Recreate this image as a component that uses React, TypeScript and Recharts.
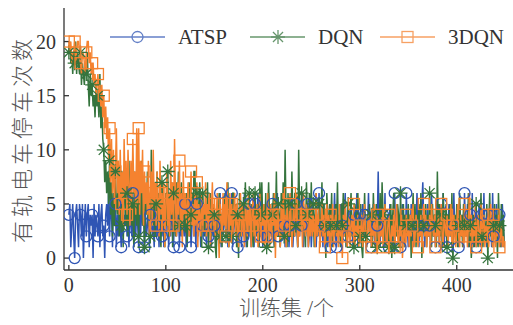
import { Legend, Line, LineChart, XAxis, YAxis } from "recharts"

const BLUE = "#2f55b4"
const GREEN = "#35743d"
const ORANGE = "#f5822f"
const SERIF = "'Liberation Serif', 'Times New Roman', serif"
const CJK = "'Liberation Serif', 'Noto Sans CJK SC', serif"

const xTicks = [0, 100, 200, 300, 400]
const yTicks = [0, 5, 10, 15, 20]
const seriesNames = ["ATSP", "DQN", "3DQN"]

// stop counts per training episode (0..449)
const atsp = [
  4,5,1,3,5,2,0,4,5,3, 1,5,4,2,5,0,3,5,2,4, 5,1,4,3,4,0,5,2,4,3, 2,5,1,4,5,2,3,0,4,5,
  3,6,2,5,4,1,6,3,5,1, 4,2,5,3,1,6,2,4,3,5, 2,4,1,5,3,2,6,1,4,2, 5,3,1,4,2,6,3,5,1,4,
  2,3,5,1,4,6,2,3,1,5, 3,2,4,1,6,3,2,5,1,4, 2,5,3,1,4,2,6,3,1,5, 4,2,3,5,1,4,2,6,3,2,
  5,1,3,4,2,5,1,3,6,2, 4,1,5,2,3,4,1,6,3,2, 5,3,1,4,2,6,3,1,5,2, 3,4,1,5,2,3,6,1,4,2,
  5,3,2,4,1,5,3,2,6,1, 3,4,2,5,1,3,2,4,1,5, 2,6,3,1,4,2,5,3,1,4, 3,1,5,2,4,6,1,3,2,5,
  1,4,3,5,2,1,6,3,4,2, 5,2,1,4,3,6,2,4,1,3, 2,5,3,1,4,2,5,1,3,6, 4,1,3,2,5,3,1,4,2,5,
  3,6,1,4,2,3,5,1,2,4, 1,3,5,2,4,1,3,2,6,3, 2,4,1,5,3,2,4,1,3,5, 1,4,2,3,6,2,1,4,3,2,
  5,1,3,2,4,6,1,3,2,4, 2,5,3,1,4,2,3,6,1,3, 4,2,1,5,3,2,4,1,3,6, 2,4,1,3,5,2,1,4,3,8,
  2,1,5,3,4,2,6,1,3,4, 1,5,2,4,3,1,6,2,4,3, 2,4,1,3,5,2,4,1,6,3, 1,4,2,5,3,1,4,2,3,6,
  3,1,4,2,5,7,3,1,4,2, 5,2,3,1,6,3,2,4,1,5, 2,4,1,3,5,2,6,1,3,4, 1,3,5,2,4,1,3,6,2,3,
  4,2,1,5,3,2,4,1,6,3, 2,5,1,3,4,2,6,1,3,4, 1,4,2,5,3,1,4,2,6,2, 3,1,4,2,5,3,1,6,2,4,
  2,5,1,3,4,2,1,5,3,1,
]

const dqn = [
  19,20,18,19,17,19,18,20,17,19, 18,17,19,16,18,17,16,18,17,19, 16,14,17,15,16,14,15,13,16,14, 15,13,17,12,14,11,10,7,9,6,
  8,5,9,4,7,2,6,3,8,5, 4,9,2,6,3,7,1,5,8,3, 6,2,9,4,7,3,5,1,8,4, 3,7,2,6,4,9,3,5,1,6,
  4,8,3,6,2,10,5,3,7,2, 5,8,3,6,2,1,7,4,3,1, 6,3,8,2,5,4,7,1,6,3, 2,7,4,8,3,5,7,2,6,4,
  3,6,1,5,7,2,4,6,3,8, 8,4,6,2,5,7,3,1,6,4, 2,5,3,7,1,4,6,2,5,3, 4,1,0,5,3,6,2,4,1,5,
  3,6,2,4,7,1,5,3,2,6, 6,3,5,1,4,0,6,2,4,3, 5,2,7,3,1,4,6,2,5,3, 1,4,6,2,3,5,1,7,4,7,
  3,5,2,6,1,4,7,3,5,2, 4,6,1,3,8,2,5,4,1,6, 3,7,2,10,4,1,6,3,5,2, 8,4,2,6,3,5,1,10,4,3,
  6,2,5,3,1,7,4,2,6,3, 7,3,5,1,4,6,2,3,5,1, 4,7,2,5,3,0,6,4,2,5, 3,6,1,4,2,5,3,7,2,4,
  1,5,3,6,2,4,1,3,5,2, 4,6,2,3,1,5,4,2,6,3, 2,5,1,0,3,6,2,1,4,3, 5,2,4,1,6,3,2,5,1,4,
  3,6,2,7,4,1,5,3,2,4, 1,3,5,0,4,6,1,3,2,5, 4,1,6,3,2,5,1,4,3,2, 5,2,4,0,3,6,2,5,1,4,
  3,5,2,6,0,4,3,2,5,1, 4,2,6,3,1,5,2,4,3,1, 8,3,5,2,4,1,6,3,2,5, 1,4,3,5,2,6,0,3,4,2,
  5,1,3,6,2,4,1,5,3,2, 4,2,6,1,3,0,2,4,1,3, 5,2,1,4,3,6,2,1,4,3, 2,5,0,3,6,2,4,1,3,5,
  2,4,0,6,3,1,5,2,4,1,
]

const dqn3 = [
  20,19,20,18,19,19,20,18,19,20, 20,19,18,17,19,19,18,17,19,20, 20,18,19,17,18,18,16,17,15,16, 17,15,16,14,16,13,15,12,14,11,
  13,9,12,7,11,6,10,5,8,12, 6,9,4,10,5,8,3,11,6,9, 4,10,7,3,9,5,11,6,8,4, 12,5,12,4,9,6,10,3,8,5,
  7,4,9,2,6,8,3,10,5,7, 3,8,5,2,9,4,6,3,7,1, 5,8,3,6,2,9,4,7,3,11, 5,2,7,4,9,3,6,1,8,4,
  6,3,5,7,2,4,8,3,5,2, 6,3,7,1,5,4,2,6,3,5, 4,7,2,5,3,6,1,4,7,3, 5,2,4,6,3,0,5,4,2,6,
  3,5,2,7,4,1,6,3,5,2, 4,6,2,5,3,1,4,6,2,5, 3,1,5,4,2,6,3,5,1,4, 6,2,4,3,5,1,3,6,2,4,
  3,5,1,4,2,6,3,1,5,2, 4,3,6,0,5,2,4,3,1,5, 2,6,3,4,1,5,3,2,6,4, 1,3,5,2,4,6,1,3,2,5,
  4,1,6,3,2,5,3,1,4,2, 5,2,4,3,1,6,2,4,3,1, 3,5,2,4,1,3,5,2,4,1, 4,2,5,1,3,4,2,3,1,5,
  2,3,0,4,2,5,3,1,2,4, 1,3,4,2,5,1,3,2,4,1, 3,2,4,1,3,5,2,1,3,4, 2,4,1,3,2,5,1,3,4,2,
  1,3,2,4,1,3,5,2,1,3, 4,2,1,3,2,4,1,3,5,2, 1,3,2,4,0,2,3,1,4,2, 3,1,4,2,3,5,1,2,4,3,
  1,3,2,4,1,3,5,2,4,1, 3,2,4,1,5,3,2,4,1,3, 2,4,1,3,5,2,1,4,3,2, 4,1,3,2,5,1,3,4,2,1,
  3,5,2,1,4,2,3,1,5,2, 4,1,3,6,2,4,1,3,2,5, 1,3,4,2,1,5,2,3,4,1, 3,2,4,1,3,5,2,1,4,2,
  1,3,2,4,1,2,3,1,2,1,
]

const data = atsp.map((v, i) => ({ ep: i, atsp: v, dqn: dqn[i], dqn3: dqn3[i] }))

const EVERY = 6

const CircleDot = (p: any) =>
  p.index % EVERY ? <g key={`c${p.index}`} /> : (
    <circle key={`c${p.index}`} cx={p.cx} cy={p.cy} r={5.5} fill="none" stroke={BLUE} strokeWidth={1.3} />
  )

const starPath = (x: number, y: number, r: number) => {
  const d = r * 0.72
  return `M${x - r},${y}L${x + r},${y}M${x},${y - r}L${x},${y + r}M${x - d},${y - d}L${x + d},${y + d}M${x - d},${y + d}L${x + d},${y - d}`
}

const StarDot = (p: any) =>
  p.index % EVERY ? <g key={`s${p.index}`} /> : (
    <path key={`s${p.index}`} d={starPath(p.cx, p.cy, 7)} stroke={GREEN} strokeWidth={1.3} fill="none" />
  )

const SquareDot = (p: any) =>
  p.index % EVERY ? <g key={`q${p.index}`} /> : (
    <rect key={`q${p.index}`} x={p.cx - 5.5} y={p.cy - 5.5} width={11} height={11} fill="none" stroke={ORANGE} strokeWidth={1.3} />
  )

// legend drawn in page coords (wrapper sits at left 0)
const LegendBox = () => {
  const cy = 12
  const items = [
    { x: 110, color: BLUE, mark: <circle cx={137.5} cy={cy} r={5.5} fill="none" stroke={BLUE} strokeWidth={1.3} /> },
    { x: 250, color: GREEN, mark: <path d={starPath(278, cy, 7)} stroke={GREEN} strokeWidth={1.3} fill="none" /> },
    { x: 380, color: ORANGE, mark: <rect x={402} y={cy - 5.5} width={11} height={11} fill="none" stroke={ORANGE} strokeWidth={1.3} /> },
  ]
  return (
    <svg width={513} height={24} style={{ display: "block" }}>
      {items.map((it, i) => (
        <g key={i}>
          <g opacity={0.75}>
            <line x1={it.x} x2={it.x + 55} y1={cy} y2={cy} stroke={it.color} strokeWidth={1.5} />
            {it.mark}
          </g>
          <text x={it.x + 68} y={cy + 6.8} fontFamily={SERIF} fontSize={21} fill="#333">
            {seriesNames[i]}
          </text>
        </g>
      ))}
    </svg>
  )
}

const YLabel = (props: any) => {
  const vb = props.viewBox
  const cx = vb.x + 22
  const cy = vb.y + vb.height / 2
  return (
    <text x={cx} y={cy} transform={`rotate(-90 ${cx} ${cy})`} textAnchor="middle" dominantBaseline="central" fontFamily={CJK} fontSize={22} fontWeight={300} letterSpacing={4} fill="#555">
      有轨电车停车次数
    </text>
  )
}

const XLabel = (props: any) => {
  const vb = props.viewBox
  return (
    <text x={vb.x + vb.width / 2 - 2} y={vb.y + 38} textAnchor="middle" dominantBaseline="central" fontFamily={CJK} fontSize={21} fontWeight={300} fill="#555">
      训练集 /个
    </text>
  )
}

const tickStyle = { fontFamily: SERIF, fontSize: 20, fill: "#333" }
const axisStroke = { stroke: "#333", strokeWidth: 1.3 }

export default function App() {
  return (
    <div style={{ position: "absolute", left: 0, top: 0, background: "#fff" }}>
      <LineChart width={513} height={325} data={data} margin={{ top: 8, right: 0, bottom: 0, left: 0 }}>
        <XAxis
          dataKey="ep"
          type="number"
          domain={[-5, 458]}
          ticks={xTicks}
          allowDataOverflow
          height={55}
          tick={tickStyle}
          tickSize={-5}
          tickMargin={13}
          tickLine={axisStroke}
          axisLine={axisStroke}
          label={<XLabel />}
        />
        <XAxis
          xAxisId="top"
          orientation="top"
          dataKey="ep"
          type="number"
          domain={[-5, 458]}
          height={0}
          tick={false}
          tickLine={false}
          axisLine={axisStroke}
        />
        <YAxis
          type="number"
          domain={[-1.1, 23.1]}
          ticks={yTicks}
          allowDataOverflow
          width={64}
          tick={tickStyle}
          tickSize={-5}
          tickMargin={13}
          tickLine={axisStroke}
          axisLine={axisStroke}
          label={<YLabel />}
        />
        <Legend
          layout="horizontal"
          verticalAlign="middle"
          content={<LegendBox />}
          wrapperStyle={{ left: 0, top: 25, width: 513, height: 24 }}
        />
        <Line dataKey="atsp" stroke={BLUE} strokeWidth={1.5} dot={CircleDot} activeDot={false} isAnimationActive={false} />
        <Line dataKey="dqn" stroke={GREEN} strokeWidth={1.5} dot={StarDot} activeDot={false} isAnimationActive={false} />
        <Line dataKey="dqn3" stroke={ORANGE} strokeWidth={1.5} dot={SquareDot} activeDot={false} isAnimationActive={false} />
      </LineChart>
    </div>
  )
}
